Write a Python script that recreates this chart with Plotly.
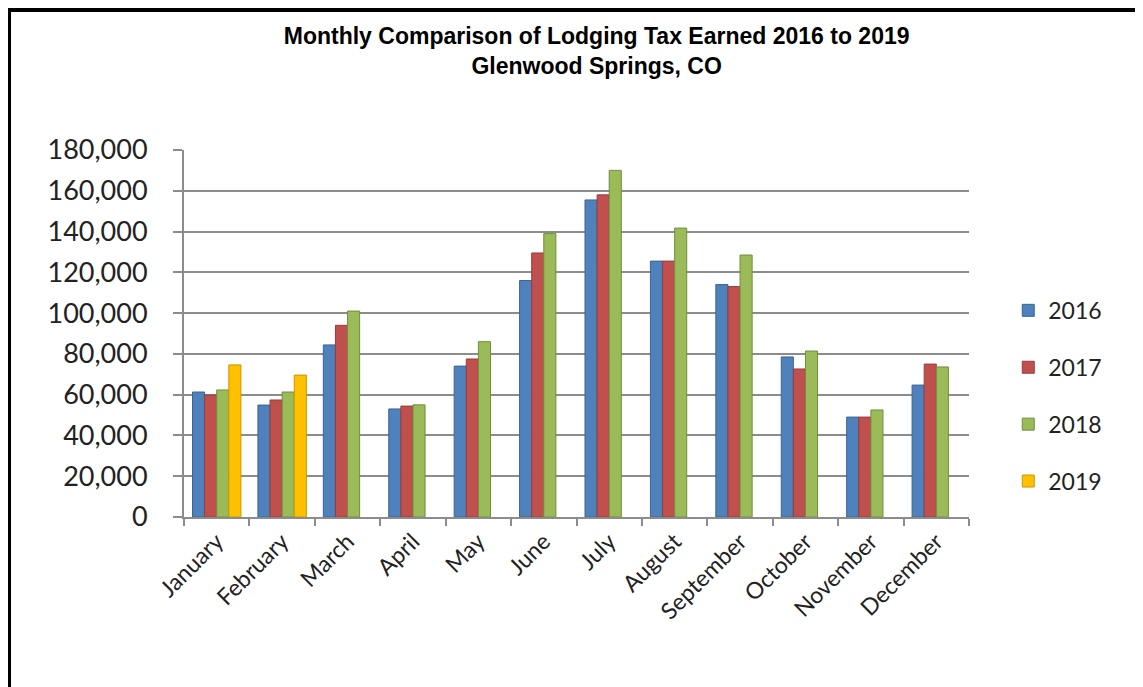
import plotly.graph_objects as go

months = ["January", "February", "March", "April", "May", "June", "July",
          "August", "September", "October", "November", "December"]

tax_2016 = [61300, 54900, 84400, 53000, 74000, 116000, 155500, 125500, 114000, 78500, 49000, 64700]
tax_2017 = [59800, 57400, 94000, 54400, 77500, 129500, 158000, 125500, 113000, 72600, 49000, 75000]
tax_2018 = [62300, 61300, 101000, 55000, 86000, 139000, 170000, 141700, 128500, 81400, 52500, 73600]
tax_2019 = [74600, 69600, None, None, None, None, None, None, None, None, None, None]

series = [
    ("2016", tax_2016, "#4F81BD", "#3A6593"),
    ("2017", tax_2017, "#C0504D", "#963D3B"),
    ("2018", tax_2018, "#9BBB59", "#728C3E"),
    ("2019", tax_2019, "#FFC000", "#C99700"),
]

fig = go.Figure()
for name, vals, color, edge in series:
    fig.add_trace(go.Bar(
        name=name, x=months, y=vals, legendgroup=name,
        marker=dict(color=color, line=dict(color=edge, width=1)),
    ))

fig.update_layout(
    width=1143, height=687,
    paper_bgcolor="white", plot_bgcolor="white",
    margin=dict(l=176, r=182, t=142, b=178),
    barmode="group", bargap=0.26, bargroupgap=0,
    font=dict(family="Lato, Liberation Sans, sans-serif", color="#222222"),
    title=dict(
        text="<b>Monthly Comparison of Lodging Tax Earned 2016 to 2019<br>Glenwood Springs, CO</b>",
        x=0.515, xanchor="center", y=0.947, yanchor="top",
        font=dict(family="Liberation Sans, Arial", size=23, color="black"),
    ),
    legend=dict(
        x=1.05, xanchor="left", y=0.33, yanchor="middle",
        font=dict(size=23), tracegroupgap=24, itemwidth=30,
    ),
    showlegend=True,
)

fig.update_yaxes(
    range=[0, 180000], dtick=20000, tickformat=",d",
    showgrid=True, gridcolor="#8C8C8C", gridwidth=2,
    showline=True, linecolor="#8C8C8C", linewidth=2,
    ticks="outside", tickcolor="#8C8C8C", ticklen=9, tickwidth=2,
    tickfont=dict(size=27), ticklabelstandoff=20, zeroline=False,
)
fig.update_xaxes(
    showline=True, linecolor="#8C8C8C", linewidth=2,
    ticks="outside", tickson="boundaries", tickcolor="#8C8C8C", ticklen=7, tickwidth=2,
    tickangle=-45, tickfont=dict(size=23),
)

# black frame around the chart (right and bottom edges run off the page)
fig.add_shape(
    type="rect", xref="paper", yref="paper",
    x0=-0.2229, x1=1.3, y0=-0.6, y1=1.3815,
    line=dict(color="black", width=4), layer="above",
)

fig.write_html("out.html")
